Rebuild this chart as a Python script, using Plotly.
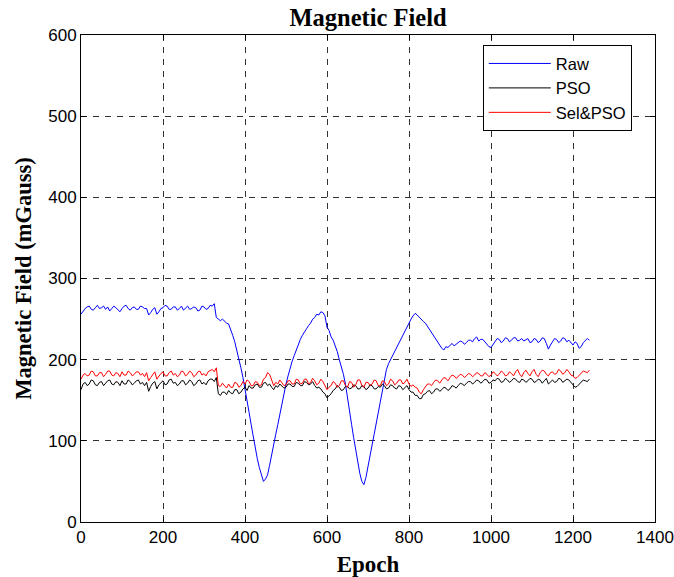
import plotly.graph_objects as go

epoch = list(range(0, 1245, 5))

raw = [
    256, 260, 263, 265, 266, 262, 261, 264, 267, 263, 264, 266, 262, 265, 260, 263, 266, 264, 262, 259,
    263, 266, 267, 263, 261, 264, 265, 262, 262, 266, 265, 263, 263, 255, 258, 262, 264, 256, 259, 263,
    264, 267, 266, 262, 262, 265, 265, 261, 263, 266, 261, 264, 266, 262, 263, 265, 264, 260, 261, 266,
    265, 262, 263, 267, 266, 269, 252, 250, 248, 250, 247, 245, 244, 238, 230, 222, 212, 202, 190, 178,
    165, 150, 135, 120, 105, 90, 78, 67, 57, 50, 53, 58, 70, 84, 98, 108, 120, 133, 145, 158,
    170, 180, 190, 198, 205, 212, 218, 225, 230, 235, 238, 242, 245, 250, 252, 256, 255, 259, 258, 254,
    240, 236, 228, 224, 218, 210, 200, 192, 182, 170, 155, 138, 120, 104, 88, 74, 60, 50, 46, 55,
    70, 82, 95, 108, 122, 136, 150, 165, 178, 188, 195, 200, 205, 210, 215, 220, 226, 232, 237, 241,
    245, 250, 254, 257, 255, 252, 250, 247, 245, 241, 238, 234, 230, 226, 222, 218, 214, 212, 216, 215,
    218, 220, 217, 219, 220, 223, 222, 219, 221, 224, 224, 222, 226, 228, 223, 225, 225, 222, 219, 216,
    215, 219, 222, 226, 225, 221, 223, 227, 226, 222, 224, 227, 227, 223, 224, 226, 223, 225, 226, 221,
    222, 226, 225, 221, 223, 227, 226, 220, 213, 218, 222, 226, 225, 221, 223, 227, 226, 222, 224, 221,
    218, 222, 220, 214, 216, 221, 223, 226, 224,
]

pso = [
    163, 170, 172, 168, 170, 175, 174, 169, 168, 172, 173, 168, 171, 174, 175, 170, 169, 173, 172, 168,
    174, 170, 170, 175, 173, 169, 171, 174, 175, 170, 172, 168, 172, 161, 167, 171, 173, 164, 169, 172,
    174, 169, 170, 175, 176, 171, 172, 168, 170, 174, 174, 169, 171, 175, 173, 168, 170, 174, 175, 170,
    172, 169, 174, 176, 176, 173, 178, 158, 156, 160, 160, 157, 162, 159, 158, 163, 163, 158, 160, 164,
    166, 162, 168, 165, 165, 169, 170, 166, 166, 171, 172, 168, 170, 166, 163, 168, 166, 170, 168, 165,
    166, 170, 170, 167, 167, 172, 171, 168, 168, 173, 172, 169, 170, 173, 168, 165, 166, 164, 160, 158,
    153, 155, 158, 162, 164, 168, 166, 162, 163, 167, 167, 164, 165, 169, 168, 164, 164, 168, 167, 163,
    165, 169, 168, 164, 164, 167, 166, 170, 168, 164, 165, 169, 168, 165, 164, 168, 167, 163, 165, 168,
    163, 160, 160, 156, 156, 152, 152, 157, 158, 161, 162, 158, 160, 164, 164, 161, 163, 166, 165, 162,
    164, 168, 167, 165, 168, 171, 170, 168, 171, 173, 173, 170, 172, 175, 174, 171, 173, 176, 175, 171,
    172, 175, 174, 177, 176, 172, 173, 177, 175, 172, 174, 177, 176, 173, 172, 176, 175, 172, 174, 177,
    176, 172, 173, 176, 175, 171, 174, 177, 170, 173, 175, 172, 173, 177, 176, 172, 174, 176, 175, 172,
    170, 166, 167, 170, 172, 175, 174, 173, 176,
]

sel_pso = [
    176, 181, 183, 180, 181, 186, 185, 180, 180, 184, 184, 179, 182, 186, 186, 181, 180, 184, 183, 179,
    185, 181, 181, 186, 184, 180, 182, 185, 185, 181, 183, 179, 184, 174, 178, 181, 185, 176, 180, 183,
    185, 180, 180, 184, 186, 181, 183, 179, 181, 186, 185, 180, 182, 186, 184, 179, 181, 185, 186, 181,
    183, 180, 185, 187, 188, 185, 190, 168, 167, 171, 168, 165, 170, 166, 166, 172, 171, 166, 168, 173,
    170, 175, 173, 168, 168, 173, 172, 168, 169, 176, 178, 184, 182, 174, 168, 172, 170, 175, 172, 168,
    169, 174, 174, 170, 170, 176, 175, 170, 171, 176, 176, 170, 172, 177, 174, 169, 171, 176, 173, 168,
    163, 166, 168, 173, 171, 166, 168, 174, 174, 168, 166, 173, 172, 166, 169, 175, 175, 168, 166, 172,
    172, 168, 170, 175, 174, 168, 168, 174, 173, 168, 170, 176, 174, 169, 171, 175, 175, 170, 172, 176,
    170, 167, 169, 166, 165, 160, 158, 163, 166, 170, 170, 168, 172, 175, 174, 171, 175, 178, 177, 174,
    178, 181, 180, 177, 179, 182, 181, 178, 180, 183, 182, 179, 181, 184, 183, 180, 180, 184, 182, 179,
    181, 185, 183, 180, 182, 186, 184, 180, 181, 185, 183, 180, 185, 188, 182, 179, 184, 187, 183, 180,
    185, 188, 182, 179, 184, 187, 186, 182, 180, 184, 185, 182, 183, 188, 186, 182, 184, 188, 185, 181,
    180, 177, 178, 181, 183, 186, 185, 184, 187,
]

x_ticks = [0, 200, 400, 600, 800, 1000, 1200, 1400]
y_ticks = [0, 100, 200, 300, 400, 500, 600]

fig = go.Figure()
fig.add_trace(go.Scatter(x=epoch, y=raw, mode="lines", name="Raw",
                         line=dict(color="#0000ff", width=1)))
fig.add_trace(go.Scatter(x=epoch, y=pso, mode="lines", name="PSO",
                         line=dict(color="#000000", width=1)))
fig.add_trace(go.Scatter(x=epoch, y=sel_pso, mode="lines", name="Sel&PSO",
                         line=dict(color="#ff0000", width=1)))

axis_common = dict(
    showline=True, linecolor="black", linewidth=1, mirror="ticks",
    ticks="inside", ticklen=5, tickcolor="black",
    showgrid=True, gridcolor="#333333", gridwidth=1, griddash="6px,6px",
    zeroline=False, automargin=False,
    tickfont=dict(family="Liberation Sans, Arial", size=17, color="black"),
)

fig.update_xaxes(range=[0, 1400], tickvals=x_ticks,
                 title=dict(text="<b>Epoch</b>", standoff=10,
                            font=dict(family="Liberation Serif, Times New Roman", size=23, color="black")),
                 **axis_common)
fig.update_yaxes(range=[0, 600], tickvals=y_ticks,
                 title=dict(text="<b>Magnetic Field (mGauss)</b>", standoff=10,
                            font=dict(family="Liberation Serif, Times New Roman", size=22.5, color="black")),
                 **axis_common)

fig.update_layout(
    width=674, height=577,
    margin=dict(l=81, r=19, t=35, b=55),
    paper_bgcolor="white", plot_bgcolor="white",
    title=dict(text="<b>Magnetic Field</b>", x=0.546, xanchor="center", y=0.969, yanchor="middle",
               font=dict(family="Liberation Serif, Times New Roman", size=24.5, color="black")),
    legend=dict(x=0.70, y=0.979, xanchor="left", yanchor="top",
                bgcolor="white", bordercolor="black", borderwidth=1,
                font=dict(family="Liberation Sans, Arial", size=16.5, color="black"),
                tracegroupgap=0, itemwidth=62),
    showlegend=True,
)

fig.write_html("out.html")
